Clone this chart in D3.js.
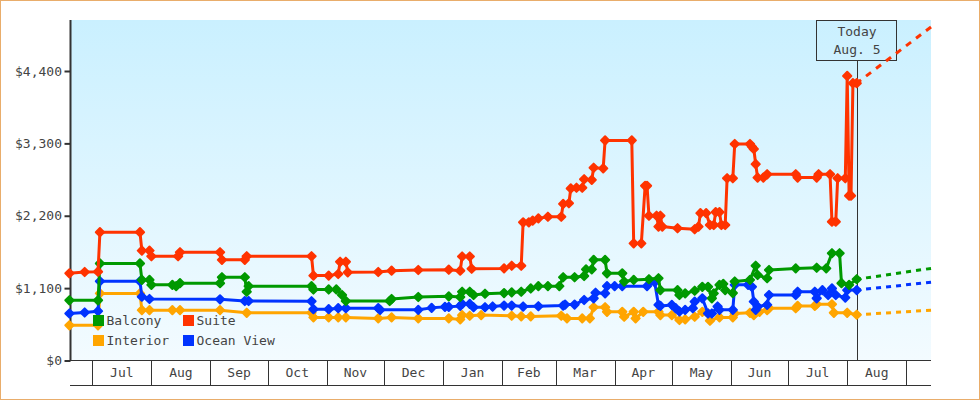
<!DOCTYPE html>
<html><head><meta charset="utf-8">
<style>html,body{margin:0;padding:0;background:#fff}svg{display:block}text{font-family:"DejaVu Sans Mono",monospace;font-size:13px;fill:#444}</style>
<script src="https://cdnjs.cloudflare.com/ajax/libs/d3/7.8.5/d3.min.js"></script>
</head><body><svg id="c" width="980" height="400"></svg>
<script>
// each point: [days since Jul 1, price in dollars]
const suite=[[-12,1325],[-4,1345],[3,1350],[4,1950],[25,1950],[26,1670],[30,1670],[31,1585],[45,1585],[46,1645],[67,1645],[68,1530],[80,1530],[81,1585],[115,1585],[116,1290],[124,1290],[129,1315],[130,1500],[133,1500],[134,1340],[150,1345],[157,1365],[171,1375],[187,1380],[193,1365],[194,1580],[198,1580],[199,1395],[216,1400],[220,1440],[225,1440],[226,2100],[229,2100],[231,2125],[234,2160],[239,2185],[246,2185],[247,2380],[250,2390],[251,2615],[254,2625],[257,2625],[258,2755],[262,2745],[263,2930],[268,2920],[269,3345],[283,3345],[284,1780],[288,1780],[290,2655],[291,2655],[292,2200],[296,2200],[297,2035],[298,2200],[299,2035],[307,2010],[316,1995],[318,2035],[319,2240],[322,2240],[324,2060],[326,2060],[327,2255],[329,2255],[330,2060],[332,2060],[333,2770],[336,2770],[337,3290],[345,3290],[346,3250],[347,3215],[348,2985],[349,2780],[352,2780],[354,2830],[369,2830],[370,2780],[380,2780],[381,2830],[387,2830],[388,2110],[390,2110],[391,2770],[395,2770],[396,4325],[397,2505],[398,2505],[399,4215],[401,4215]];
const balcony=[[-12,915],[3,915],[4,1475],[25,1475],[26,1225],[30,1225],[31,1150],[42,1150],[44,1130],[46,1175],[67,1175],[68,1265],[80,1265],[81,1045],[82,1130],[115,1130],[116,1080],[124,1080],[128,1080],[131,995],[133,905],[156,905],[157,935],[171,965],[187,975],[193,965],[194,1045],[198,1045],[200,995],[206,1015],[216,1025],[220,1035],[225,1045],[230,1095],[234,1130],[239,1130],[245,1130],[247,1265],[253,1265],[258,1285],[259,1385],[262,1385],[263,1530],[269,1530],[270,1325],[278,1325],[279,1200],[284,1225],[292,1235],[297,1250],[298,1070],[307,1070],[308,995],[311,1020],[316,1060],[320,1120],[323,1120],[325,945],[326,1020],[329,1150],[331,1165],[332,1070],[336,1025],[337,1200],[345,1225],[348,1440],[349,1300],[354,1250],[355,1375],[369,1400],[380,1410],[385,1400],[388,1630],[392,1630],[393,1175],[397,1150],[401,1235]];
const oceanView=[[-12,715],[-4,730],[3,750],[4,1205],[25,1205],[26,970],[30,935],[67,930],[80,905],[82,905],[115,900],[116,780],[124,780],[129,795],[133,795],[150,795],[151,770],[171,770],[178,800],[185,815],[187,815],[193,830],[194,860],[198,860],[200,810],[206,810],[210,820],[216,835],[220,835],[226,820],[234,825],[247,835],[248,850],[253,850],[258,920],[263,945],[264,1030],[269,1020],[270,1130],[274,1130],[278,1130],[291,1130],[295,1190],[297,845],[298,830],[304,845],[306,795],[308,745],[311,770],[315,795],[316,895],[320,945],[323,715],[325,715],[328,820],[329,770],[336,770],[337,1150],[344,1150],[346,1120],[347,895],[348,770],[349,820],[354,845],[355,995],[369,995],[370,1045],[379,1045],[380,945],[383,1070],[386,995],[388,1095],[390,995],[395,955],[396,1070],[401,1070]];
const interior=[[-12,535],[3,535],[4,1020],[25,1020],[26,765],[30,765],[42,765],[46,765],[67,765],[81,725],[115,725],[116,655],[124,655],[129,655],[133,655],[150,640],[157,655],[171,640],[187,640],[193,625],[194,690],[198,680],[204,690],[220,680],[225,670],[230,670],[246,680],[249,640],[257,640],[261,640],[263,810],[269,810],[270,740],[278,740],[279,665],[284,740],[285,640],[289,740],[297,740],[298,690],[304,690],[308,615],[311,625],[316,665],[320,740],[323,715],[324,605],[329,655],[336,655],[337,715],[345,725],[347,690],[350,740],[354,765],[355,795],[369,795],[370,830],[379,830],[380,855],[388,855],[389,725],[396,725],[401,695]];
const forecastEnd=440;
const forecastSuite=5070, forecastBalcony=1400, forecastOceanView=1190, forecastInterior=765;
const monthLabels=["Jul","Aug","Sep","Oct","Nov","Dec","Jan","Feb","Mar","Apr","May","Jun","Jul","Aug"];
const priceTicks=[0,1100,2200,3300,4400];
const legendNames=[["Balcony","Suite"],["Interior","Ocean View"]];
const todayLabel=["Today","Aug. 5"];
const todayDay=401;

const base=new Date(2014,6,1);
const toDate=d=>d3.timeDay.offset(base,d);
const W=980,H=400,L=71,R=931,T=20,B=360;
const x=d3.scaleTime().domain([toDate(0),new Date(2015,8,1)]).range([92.3,906.3]);
const y=d3.scaleLinear().domain([0,4400]).range([360.5,71]);
const svg=d3.select("#c");
const series=[
 {name:"Interior",data:interior,end:forecastInterior,color:"#ffa500"},
 {name:"Ocean View",data:oceanView,end:forecastOceanView,color:"#0033ff"},
 {name:"Balcony",data:balcony,end:forecastBalcony,color:"#009900"},
 {name:"Suite",data:suite,end:forecastSuite,color:"#ff3300"}];
const colorOf=n=>series.find(s=>s.name===n).color;

const grad=svg.append("defs").append("linearGradient").attr("id","bg").attr("x1",0).attr("x2",0).attr("y1",0).attr("y2",1);
grad.append("stop").attr("offset",0).attr("stop-color","#caf0ff");
grad.append("stop").attr("offset",1).attr("stop-color","#f3fbff");

svg.append("rect").attr("x",.5).attr("y",.5).attr("width",W-1).attr("height",H-1).attr("fill","#fff").attr("stroke","#e9ad6b");
svg.append("rect").attr("x",L).attr("y",T).attr("width",R-L).attr("height",B-T).attr("fill","url(#bg)");

// x axis
const months=d3.timeMonth.range(new Date(2014,6,1),new Date(2015,8,2));
const xAxis=svg.append("g").attr("transform",`translate(0,${B+.5})`)
  .call(d3.axisBottom(x).tickValues(months).tickSize(25).tickFormat(""));
xAxis.select(".domain").remove();
xAxis.selectAll("line").attr("stroke","#333").attr("shape-rendering","crispEdges");
svg.append("g").selectAll("line").data([B+.5,385.5]).join("line")
  .attr("x1",70).attr("x2",R).attr("y1",d=>d).attr("y2",d=>d).attr("stroke","#333").attr("shape-rendering","crispEdges");
svg.append("g").selectAll("text").data(monthLabels).join("text")
  .attr("x",(d,i)=>(x(months[i])+x(months[i+1]))/2).attr("y",377).attr("text-anchor","middle").text(d=>d);

// y axis
const yAxis=svg.append("g").attr("transform","translate(70.5,0)")
  .call(d3.axisLeft(y).tickValues(priceTicks).tickSize(6).tickPadding(2.5).tickFormat(d3.format("$,")));
yAxis.select(".domain").remove();
yAxis.selectAll("line").attr("stroke","#333").attr("stroke-width",2);
yAxis.selectAll("text").attr("fill",null).style("font-size","13px").style("font-family",'"DejaVu Sans Mono",monospace').style("fill","#444");
svg.append("line").attr("x1",70.5).attr("x2",70.5).attr("y1",T).attr("y2",B+1).attr("stroke","#333").attr("stroke-width",2);

// today marker
const tx=x(toDate(todayDay))+.3;
svg.append("line").attr("x1",tx).attr("x2",tx).attr("y1",60).attr("y2",B).attr("stroke","#333").attr("shape-rendering","crispEdges");
svg.append("rect").attr("x",816.5).attr("y",20.5).attr("width",80).attr("height",40).attr("fill","none").attr("stroke","#333").attr("shape-rendering","crispEdges");
svg.append("g").selectAll("text").data(todayLabel).join("text")
  .attr("x",tx).attr("y",(d,i)=>36+i*18).attr("text-anchor","middle").text(d=>d);

// series
const line=d3.line().x(d=>x(toDate(d[0]))).y(d=>y(d[1]));
const marker=d3.symbol().type(d3.symbolSquare).size(34)();
series.forEach(s=>{
  const g=svg.append("g");
  const last=s.data[s.data.length-1];
  const fc=[last,[forecastEnd,s.end]];
  const xLen=x(toDate(forecastEnd))-x(toDate(last[0]));
  g.append("path").attr("d",line(fc)).attr("fill","none").attr("stroke",s.color).attr("stroke-width",3)
    .attr("pathLength",xLen).attr("stroke-dasharray","5 5").attr("stroke-dashoffset",.7);
  g.append("path").attr("d",line(s.data)).attr("fill","none").attr("stroke",s.color).attr("stroke-width",3).attr("stroke-linejoin","round");
  g.selectAll("path.m").data(s.data).join("path").attr("class","m").attr("d",marker)
    .attr("transform",d=>`translate(${x(toDate(d[0]))},${y(d[1])}) rotate(45)`)
    .attr("fill",s.color).attr("stroke",s.color).attr("stroke-width",2).attr("stroke-linejoin","round");
});

// legend
legendNames.forEach((row,r)=>row.forEach((n,c)=>{
  const g=svg.append("g").attr("transform",`translate(${93+c*90},${315+r*20})`);
  g.append("rect").attr("width",11).attr("height",11).attr("fill",colorOf(n));
  g.append("text").attr("x",13.5).attr("y",10).text(n);
}));
</script></body></html>
